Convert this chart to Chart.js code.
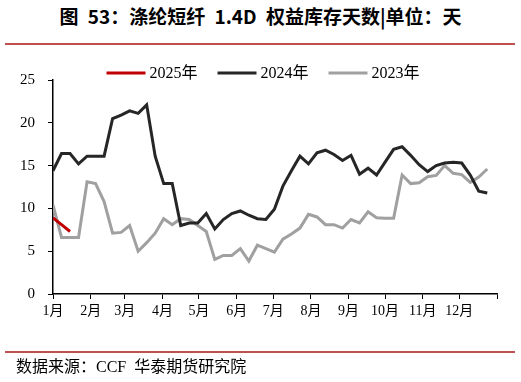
<!DOCTYPE html>
<html><head><meta charset="utf-8">
<script src="https://cdn.jsdelivr.net/npm/chart.js@4/dist/chart.umd.min.js"></script>
<style>
html,body{margin:0;padding:0;background:#fff;}
#wrap{position:relative;width:521px;height:382px;overflow:hidden;background:#fff;}
#title{position:absolute;left:0;width:521px;top:3px;text-align:center;font-weight:bold;font-size:19px;word-spacing:5px;font-family:"Noto Sans CJK SC",sans-serif;line-height:26px;color:#000;white-space:pre;}
.rule{position:absolute;left:5px;width:510px;height:2px;background:#c0504d;}
#footer{position:absolute;left:16px;top:357px;font-size:16px;font-family:"Liberation Serif","Noto Sans CJK SC",serif;line-height:20px;color:#000;white-space:pre;}
canvas{position:absolute;left:0;top:0;}
</style></head>
<body><div id="wrap">
<div id="title">图 53：涤纶短纤 1.4D 权益库存天数|单位：天</div>
<div class="rule" style="top:43px"></div>
<canvas id="c" width="521" height="382"></canvas>
<div class="rule" style="top:351px"></div>
<div id="footer">数据来源：CCF  华泰期货研究院</div>
</div>
<script>
// Week positions (day of year, weekly observations)
const weekDays = [0,7,14,21,28,35,42,49,56,63,70,77,84,91,98,105,112,119,126,133,140,147,154,161,168,175,182,189,196,203,210,217,224,231,238,245,252,259,266,273,280,287,294,301,308,315,322,329,336,343,350,357];
// Month tick positions (day of year) and labels
const monthDays = [0,31,59,90,120,151,181,212,243,273,304,334,365];
const monthLabels = ['1月','2月','3月','4月','5月','6月','7月','8月','9月','10月','11月','12月',''];
const seriesNames = ['2025年','2024年','2023年'];
const values2025 = [8.9,8.1,7.3];
const values2024 = [14.4,16.4,16.4,15.2,16.1,16.1,16.1,20.5,20.9,21.4,21.1,22.1,16.1,12.9,12.9,8.0,8.3,8.3,9.4,7.6,8.7,9.4,9.7,9.2,8.8,8.7,9.9,12.6,14.4,16.1,15.2,16.5,16.8,16.3,15.6,16.2,14.0,14.7,13.9,15.4,16.9,17.2,16.2,15.1,14.3,15.0,15.3,15.4,15.3,13.9,12.0,11.8];
const values2023 = [10.4,6.6,6.6,6.6,13.1,12.9,10.8,7.1,7.2,8.0,5.0,6.0,7.1,8.8,8.1,8.8,8.7,8.0,7.3,4.05,4.5,4.5,5.3,3.85,5.7,5.3,4.9,6.4,7.0,7.7,9.3,9.0,8.1,8.1,7.7,8.7,8.3,9.6,8.9,8.85,8.85,13.9,12.9,13.0,13.7,13.85,15.0,14.1,13.95,13.05,13.65,14.6];
const colors = ['#c00000','#262626','#a0a0a0'];

function toPoints(vals){ return vals.map((v,i)=>({x:weekDays[i],y:v})); }

const legendPlugin = {
  id:'customLegend',
  afterDraw(chart){
    const ctx = chart.ctx;
    ctx.save();
    ctx.font = '16px "Liberation Serif","Noto Sans CJK SC",serif';
    ctx.textBaseline = 'middle';
    const y = 73, lineLen = 39, gapT = 4, gapI = 20;
    const items = chart.data.datasets.map(d=>({label:d.label,color:d.borderColor,w:ctx.measureText(d.label).width}));
    const total = items.reduce((s,it)=>s+lineLen+gapT+it.w,0)+gapI*(items.length-1);
    let x = 263 - total/2;
    items.forEach(it=>{
      ctx.strokeStyle = it.color; ctx.lineWidth = 3;
      ctx.beginPath(); ctx.moveTo(x,y); ctx.lineTo(x+lineLen,y); ctx.stroke();
      x += lineLen + gapT;
      ctx.fillStyle = '#000'; ctx.textAlign = 'left';
      ctx.fillText(it.label, x, y+1);
      x += it.w + gapI;
    });
    ctx.restore();
  }
};

new Chart(document.getElementById('c'), {
  type:'line',
  data:{
    datasets:[
      {label:seriesNames[0],data:toPoints(values2025),borderColor:colors[0],backgroundColor:colors[0],borderWidth:3,pointRadius:0,tension:0},
      {label:seriesNames[1],data:toPoints(values2024),borderColor:colors[1],backgroundColor:colors[1],borderWidth:3,pointRadius:0,tension:0},
      {label:seriesNames[2],data:toPoints(values2023),borderColor:colors[2],backgroundColor:colors[2],borderWidth:3,pointRadius:0,tension:0}
    ]
  },
  options:{
    responsive:false,animation:false,
    layout:{padding:{left:0,right:24,top:80,bottom:58}},
    plugins:{legend:{display:false},tooltip:{enabled:false},title:{display:false}},
    scales:{
      x:{type:'linear',min:0,max:365,
        afterBuildTicks:(s)=>{ s.ticks = monthDays.map(v=>({value:v})); },
        afterFit:(s)=>{ s.height = 30; },
        ticks:{autoSkip:false,maxRotation:0,padding:4,color:'#000',font:{family:'"Liberation Serif","Noto Sans CJK SC",serif',size:14},
          callback:(v)=>{ const k = monthDays.indexOf(v); return k>=0?monthLabels[k]:''; }},
        grid:{drawOnChartArea:false,drawTicks:true,tickLength:5,color:'#000',lineWidth:1},
        border:{display:true,color:'#000',width:1.5}
      },
      y:{min:0,max:25,
        afterFit:(s)=>{ s.width = 53; },
        ticks:{stepSize:5,padding:13,color:'#000',font:{family:'"Liberation Serif",serif',size:15}},
        grid:{drawOnChartArea:false,drawTicks:true,tickLength:5,color:'#000',lineWidth:1},
        border:{display:true,color:'#000',width:1.5}
      }
    }
  },
  plugins:[legendPlugin]
});
</script>
</body></html>
